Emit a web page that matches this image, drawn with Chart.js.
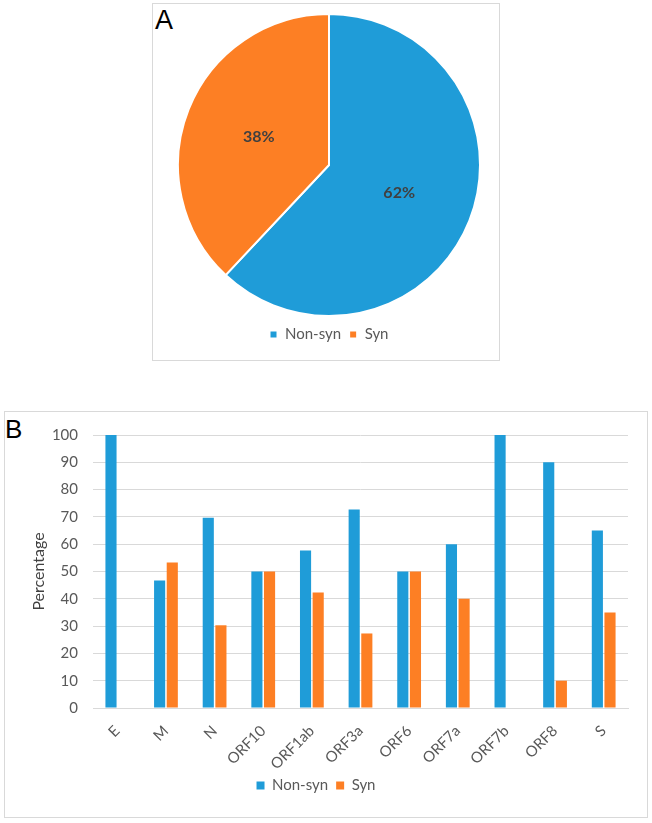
<!DOCTYPE html>
<html>
<head>
<meta charset="utf-8">
<script src="https://cdn.jsdelivr.net/npm/chart.js@4.4.1/dist/chart.umd.min.js"></script>
<style>
  body { margin: 0; background: #fff; width: 652px; height: 823px; position: relative; overflow: hidden; }
  .box { position: absolute; border: 1px solid #d9d9d9; box-sizing: border-box; }
  .tag { position: absolute; font-family: "Liberation Sans", Arial, sans-serif; color: #000; line-height: 1; }
  canvas { position: absolute; }
</style>
</head>
<body>
<div class="box" style="left:152px;top:3px;width:348px;height:358px;"></div>
<div class="box" style="left:4px;top:411px;width:644px;height:407px;"></div>
<div class="tag" style="left:155px;top:7px;font-size:27px;">A</div>
<div class="tag" style="left:5px;top:416px;font-size:26px;">B</div>
<canvas id="pie" width="304" height="341" style="left:177px;top:11px;"></canvas>
<canvas id="bar" width="643" height="392" style="left:4px;top:411px;"></canvas>
<script>
var seriesNames = ["Non-syn", "Syn"];
var seriesColors = ["#1f9cd8", "#fd7f24"];

// panel A: share of all mutations
var pieValues = [62, 38];

// panel B: percentage per gene
var genes = ["E", "M", "N", "ORF10", "ORF1ab", "ORF3a", "ORF6", "ORF7a", "ORF7b", "ORF8", "S"];
var nonSyn = [100, 46.7, 69.7, 50, 57.7, 72.7, 50, 60, 100, 90, 65];
var syn = [0, 53.3, 30.3, 50, 42.3, 27.3, 50, 40, 0, 10, 35];
var yTicks = { min: 0, max: 100, step: 10 };

Chart.defaults.font.family = "Lato, 'Noto Sans', sans-serif";
Chart.defaults.font.size = 15;
Chart.defaults.color = "#595959";
Chart.defaults.animation = false;

// percent labels in the middle of each slice
var sliceLabels = {
  id: 'sliceLabels',
  afterDatasetsDraw(chart) {
    var ctx = chart.ctx;
    var meta = chart.getDatasetMeta(0);
    ctx.save();
    ctx.font = "bold 16px Lato, 'Noto Sans', sans-serif";
    ctx.fillStyle = "#404040";
    ctx.textAlign = "center";
    ctx.textBaseline = "middle";
    meta.data.forEach(function (arc, i) {
      var p = arc.getCenterPoint();
      ctx.fillText(chart.data.datasets[0].data[i] + "%", p.x, p.y);
    });
    ctx.restore();
  }
};

var legendOpts = {
  position: 'bottom',
  labels: { boxWidth: 8, boxHeight: 8, padding: 8, color: "#595959", font: { size: 15 } }
};

new Chart(document.getElementById('pie'), {
  type: 'pie',
  data: {
    labels: seriesNames,
    datasets: [{
      data: pieValues,
      backgroundColor: seriesColors,
      borderColor: "#fff",
      borderWidth: 2,
      hoverOffset: 0
    }]
  },
  options: {
    responsive: false,
    plugins: { legend: legendOpts, tooltip: { enabled: false } }
  },
  plugins: [sliceLabels]
});

new Chart(document.getElementById('bar'), {
  type: 'bar',
  data: {
    labels: genes,
    datasets: [
      { label: seriesNames[0], data: nonSyn, backgroundColor: seriesColors[0] },
      { label: seriesNames[1], data: syn, backgroundColor: seriesColors[1] }
    ]
  },
  options: {
    responsive: false,
    categoryPercentage: 0.52,
    barPercentage: 0.88,
    layout: { padding: { top: 19, right: 19, left: 0, bottom: 0 } },
    scales: {
      x: {
        grid: { display: false },
        border: { color: "#d9d9d9" },
        ticks: { minRotation: 45, maxRotation: 45, padding: 6 },
        afterFit: function (s) { s.height = 62; }
      },
      y: {
        min: yTicks.min,
        max: yTicks.max,
        grid: { color: "#d9d9d9", drawTicks: false },
        border: { display: false },
        ticks: { stepSize: yTicks.step, padding: 15 },
        title: { display: true, text: "Percentage", color: "#404040", font: { size: 16 }, padding: { top: 25 } },
        afterFit: function (s) { s.width = 89; }
      }
    },
    plugins: { legend: legendOpts, tooltip: { enabled: false } }
  }
});
</script>
</body>
</html>
